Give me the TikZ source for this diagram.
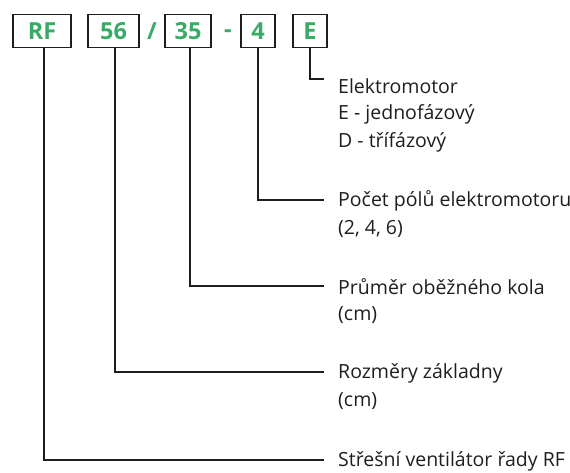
\documentclass[tikz,border=0pt]{standalone}
\usepackage{fontspec}
\setmainfont{Open Sans}
\definecolor{codegreen}{RGB}{59,170,103}
\definecolor{linegray}{RGB}{30,30,30}
\begin{document}
\begin{tikzpicture}[x=1pt,y=-1pt,
  codebox/.style={draw=linegray,line width=1.4pt,inner sep=0pt,text=codegreen,
    font=\fontsize{23.5}{23.5}\selectfont\bfseries},
  sep/.style={inner sep=0pt,text=codegreen,font=\fontsize{23.5}{23.5}\selectfont\bfseries},
  lbl/.style={anchor=west,inner sep=0pt,font=\fontsize{19.5}{20}\selectfont,text=linegray},
  conn/.style={draw=linegray,line width=1.3pt}]
\useasboundingbox (0,0) rectangle (570,473);
% code boxes
\node[codebox,minimum width=58pt,minimum height=33pt] (rf) at (42,31) {RF};
\node[codebox,minimum width=51pt,minimum height=33pt] (b56) at (113.5,31) {56};
\node[sep] (slash) at (152,31) {/};
\node[codebox,minimum width=46pt,minimum height=33pt] (b35) at (188,31) {35};
\node[sep] (dash) at (228,33.5) {-};
\node[codebox,minimum width=34pt,minimum height=33pt] (b4) at (258,31) {4};
\node[codebox,minimum width=34pt,minimum height=33pt] (be) at (310,31) {E};
% labels
\node[lbl] (te1) at (338,86) {Elektromotor};
\node[lbl] (te2) at (338,114) {E - jednofázový};
\node[lbl] (te3) at (338,142) {D - třífázový};
\node[lbl] (t41) at (338,201) {Počet pólů elektromotoru};
\node[lbl] (t42) at (338,229) {(2, 4, 6)};
\node[lbl] (t351) at (338,287) {Průměr oběžného kola};
\node[lbl] (t352) at (338,315) {(cm)};
\node[lbl] (t561) at (338,373) {Rozměry základny};
\node[lbl] (t562) at (338,401) {(cm)};
\node[lbl] (trf) at (338,461) {Střešní ventilátor řady RF};
% corner coordinates
\coordinate (ce) at (324,79);
\coordinate (c4) at (324,200);
\coordinate (c35) at (324,286);
\coordinate (c56) at (324,372);
\coordinate (crf) at (324,460);
% connectors
\draw[conn] (be.south) |- (ce);
\draw[conn] (b4.south) |- (c4);
\draw[conn] ([xshift=2pt]b35.south) |- (c35);
\draw[conn] ([xshift=1.5pt]b56.south) |- (c56);
\draw[conn] ([xshift=2pt]rf.south) |- (crf);
\end{tikzpicture}
\end{document}
